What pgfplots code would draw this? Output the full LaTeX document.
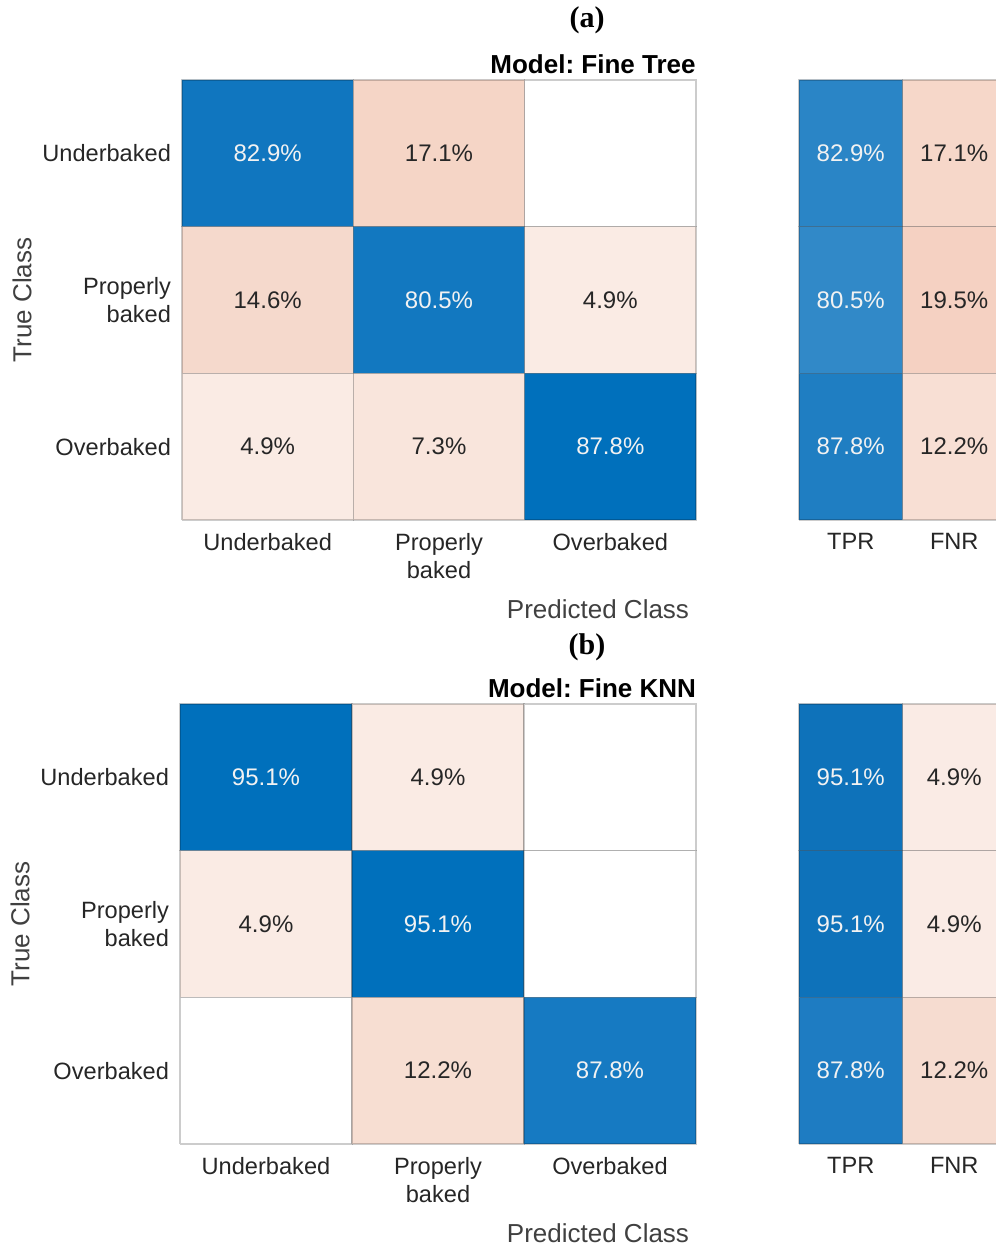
\documentclass[border=0pt]{standalone}
\usepackage{pgfplots}
\pgfplotsset{compat=1.18}
\usepackage{fontspec}
\setmainfont{Liberation Sans}
\newfontfamily\serifbf{Liberation Serif}
\frenchspacing

% cell colours (MATLAB confusionchart look)
\definecolor{txt}{HTML}{262626}
\definecolor{lbl}{HTML}{404040}
\definecolor{wtxt}{HTML}{F2F2F2}
\definecolor{bA1}{HTML}{1076BF}
\definecolor{bA2}{HTML}{1278C0}
\definecolor{bA3}{HTML}{0070BC}
\definecolor{pA171}{HTML}{F5D5C6}
\definecolor{pA146}{HTML}{F5D9CC}
\definecolor{pA49}{HTML}{FAEBE4}
\definecolor{pA73}{HTML}{F9E5DC}
\definecolor{tA1}{HTML}{2A85C6}
\definecolor{tA2}{HTML}{3189C8}
\definecolor{tA3}{HTML}{1F7EC2}
\definecolor{fA1}{HTML}{F6D7C9}
\definecolor{fA2}{HTML}{F5D1C2}
\definecolor{fA3}{HTML}{F8DFD4}
\definecolor{bB1}{HTML}{0070BC}
\definecolor{bB3}{HTML}{167AC2}
\definecolor{pB49}{HTML}{FAEBE4}
\definecolor{pB122}{HTML}{F7DED2}
\definecolor{tB1}{HTML}{0E72BA}
\definecolor{tB3}{HTML}{1E7CC2}
\definecolor{fB1}{HTML}{FAEBE5}
\definecolor{fB3}{HTML}{F6DCD0}

\newcommand{\cell}[5]{\addplot[fill=#5, draw=black, draw opacity=0.2, line width=0.6pt]
  coordinates {(#1,#3) (#2,#3) (#2,#4) (#1,#4) (#1,#3)};}

\pgfplotsset{
  cm/.style={
    scale only axis, clip=false,
    ymin=0, ymax=3, ytick={0.5,1.5,2.5},
    axis line style={draw=none},
    major tick length=0pt,
    tick label style={font=\fontsize{11.8}{14}\selectfont, text=txt},
    xticklabel style={align=center, yshift=-3pt},
    yticklabel style={align=right, xshift=-2pt},
    /pgf/number format/assume math mode=true,
  },
  vals/.style={
    only marks, mark=*, mark size=0pt,
    mark options={draw opacity=0, fill opacity=0},
    point meta=explicit,
    nodes near coords={\pgfmathprintnumber[fixed, precision=1, fixed zerofill]{\pgfplotspointmeta}\%},
    nodes near coords style={anchor=center, font=\fontsize{12}{14}\selectfont, text=#1,
      text opacity=1},
  },
}

\begin{document}
\begin{tikzpicture}
\useasboundingbox (0,0) rectangle (498pt,624pt);
\clip (0,0) rectangle (498pt,624pt);

% ---------------- (a) ----------------
\node[font=\serifbf\bfseries\fontsize{15}{17}\selectfont] at (293.5pt,614pt) {(a)};
\node[font=\bfseries\fontsize{13}{15}\selectfont] at (296.5pt,592pt) {Model: Fine Tree};

\begin{axis}[cm, at={(91pt,584pt)}, anchor=north west, width=257pt, height=220pt,
  xmin=0, xmax=3, xtick={0.5,1.5,2.5},
  xticklabels={Underbaked, Properly\\baked, Overbaked},
  yticklabels={Overbaked, Properly\\baked, Underbaked}]
\cell{0}{1}{2}{3}{bA1}
\cell{1}{2}{2}{3}{pA171}
\cell{2}{3}{2}{3}{white}
\cell{0}{1}{1}{2}{pA146}
\cell{1}{2}{1}{2}{bA2}
\cell{2}{3}{1}{2}{pA49}
\cell{0}{1}{0}{1}{pA49}
\cell{1}{2}{0}{1}{pA73}
\cell{2}{3}{0}{1}{bA3}
\addplot[vals=wtxt] table[meta=v] {
x y v
0.5 2.5 82.9
1.5 1.5 80.5
2.5 0.5 87.8
};
\addplot[vals=txt] table[meta=v] {
x y v
1.5 2.5 17.1
0.5 1.5 14.6
2.5 1.5 4.9
0.5 0.5 4.9
1.5 0.5 7.3
};
\end{axis}

\begin{axis}[cm, at={(399.5pt,584pt)}, anchor=north west, width=103.5pt, height=220pt,
  xmin=0, xmax=2, xtick={0.5,1.5}, xticklabels={TPR, FNR}, yticklabels={}]
\cell{0}{1}{2}{3}{tA1}
\cell{0}{1}{1}{2}{tA2}
\cell{0}{1}{0}{1}{tA3}
\cell{1}{2}{2}{3}{fA1}
\cell{1}{2}{1}{2}{fA2}
\cell{1}{2}{0}{1}{fA3}
\addplot[vals=wtxt] table[meta=v] {
x y v
0.5 2.5 82.9
0.5 1.5 80.5
0.5 0.5 87.8
};
\addplot[vals=txt] table[meta=v] {
x y v
1.5 2.5 17.1
1.5 1.5 19.5
1.5 0.5 12.2
};
\end{axis}

\node[font=\fontsize{13}{15}\selectfont, text=lbl] at (299pt,319.5pt) {Predicted Class};
\node[font=\fontsize{13}{15}\selectfont, text=lbl, rotate=90] at (11pt,474pt) {True Class};

% ---------------- (b) ----------------
\node[font=\serifbf\bfseries\fontsize{15}{17}\selectfont] at (293.5pt,300.5pt) {(b)};
\node[font=\bfseries\fontsize{13}{15}\selectfont] at (296pt,280pt) {Model: Fine KNN};

\begin{axis}[cm, at={(90pt,272pt)}, anchor=north west, width=258pt, height=220pt,
  xmin=0, xmax=3, xtick={0.5,1.5,2.5},
  xticklabels={Underbaked, Properly\\baked, Overbaked},
  yticklabels={Overbaked, Properly\\baked, Underbaked}]
\cell{0}{1}{2}{3}{bB1}
\cell{1}{2}{2}{3}{pB49}
\cell{2}{3}{2}{3}{white}
\cell{0}{1}{1}{2}{pB49}
\cell{1}{2}{1}{2}{bB1}
\cell{2}{3}{1}{2}{white}
\cell{0}{1}{0}{1}{white}
\cell{1}{2}{0}{1}{pB122}
\cell{2}{3}{0}{1}{bB3}
\addplot[vals=wtxt] table[meta=v] {
x y v
0.5 2.5 95.1
1.5 1.5 95.1
2.5 0.5 87.8
};
\addplot[vals=txt] table[meta=v] {
x y v
1.5 2.5 4.9
0.5 1.5 4.9
1.5 0.5 12.2
};
\end{axis}

\begin{axis}[cm, at={(399.5pt,272pt)}, anchor=north west, width=103.5pt, height=220pt,
  xmin=0, xmax=2, xtick={0.5,1.5}, xticklabels={TPR, FNR}, yticklabels={}]
\cell{0}{1}{2}{3}{tB1}
\cell{0}{1}{1}{2}{tB1}
\cell{0}{1}{0}{1}{tB3}
\cell{1}{2}{2}{3}{fB1}
\cell{1}{2}{1}{2}{fB1}
\cell{1}{2}{0}{1}{fB3}
\addplot[vals=wtxt] table[meta=v] {
x y v
0.5 2.5 95.1
0.5 1.5 95.1
0.5 0.5 87.8
};
\addplot[vals=txt] table[meta=v] {
x y v
1.5 2.5 4.9
1.5 1.5 4.9
1.5 0.5 12.2
};
\end{axis}

\node[font=\fontsize{13}{15}\selectfont, text=lbl] at (299pt,7.5pt) {Predicted Class};
\node[font=\fontsize{13}{15}\selectfont, text=lbl, rotate=90] at (10pt,162pt) {True Class};
\end{tikzpicture}
\end{document}
